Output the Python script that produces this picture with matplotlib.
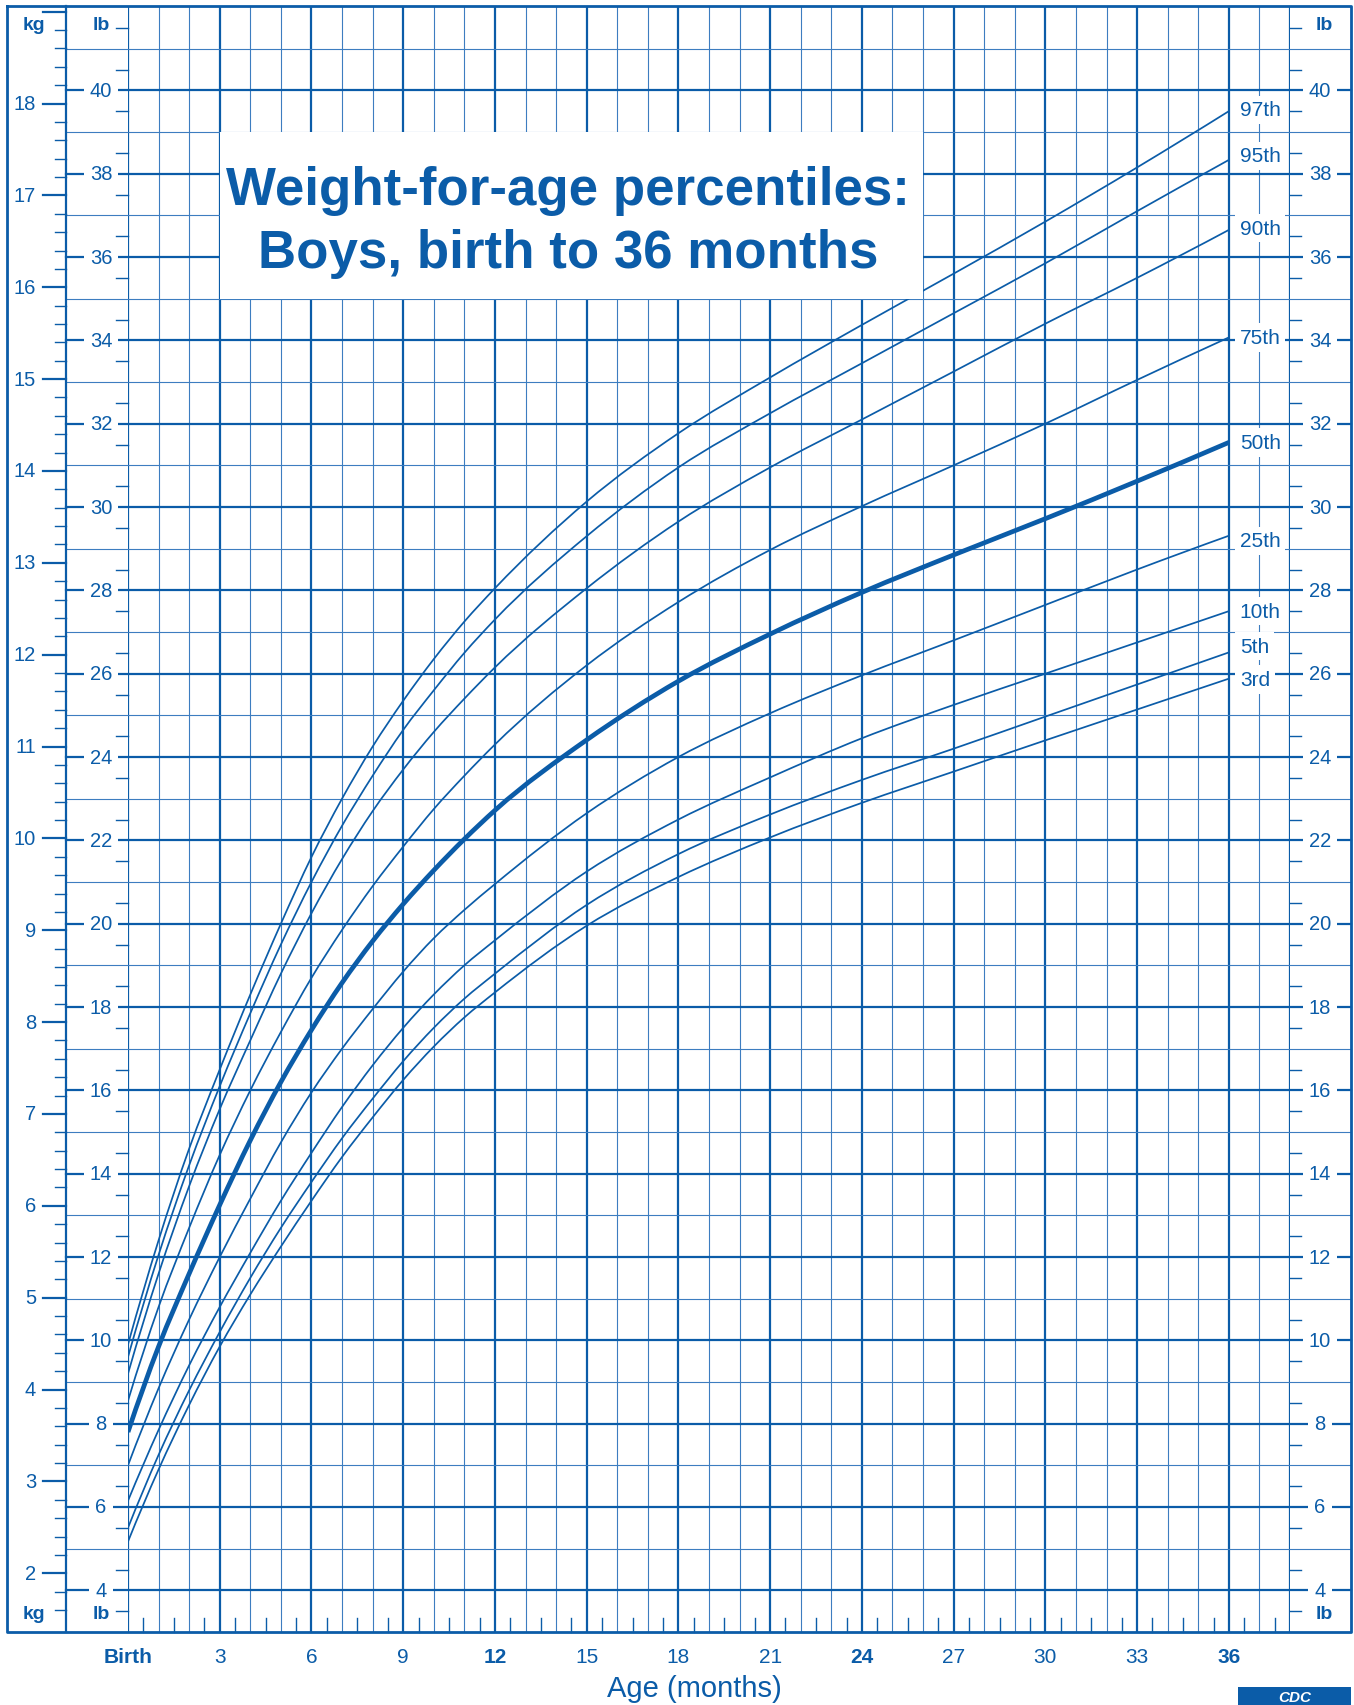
import matplotlib
matplotlib.use("Agg")
import matplotlib.pyplot as plt
from matplotlib.patches import Rectangle, PathPatch
from matplotlib.path import Path
import numpy as np

plt.rcParams['font.family'] = ['Liberation Sans', 'DejaVu Sans']

BLUE = '#0b5ca8'
GRID_THIN = '#3d7dc0'

# weight (lb) at each age (months)
ages = [0, 1, 2, 3, 4, 5, 6, 7, 8, 9, 10, 11, 12, 15, 18, 21, 24, 27, 30, 33, 36]
p97 = [9.9, 12.4, 14.6, 16.5, 18.3, 20.0, 21.6, 23.0, 24.25, 25.35, 26.35, 27.25, 28.05, 30.13, 31.77, 33.11, 34.37, 35.6, 36.85, 38.15, 39.5]
p95 = [9.6, 12.05, 14.2, 16.1, 17.85, 19.5, 21.0, 22.35, 23.55, 24.65, 25.6, 26.5, 27.3, 29.3, 30.95, 32.25, 33.45, 34.65, 35.85, 37.1, 38.33]
p90 = [9.2, 11.6, 13.7, 15.55, 17.2, 18.8, 20.25, 21.55, 22.7, 23.7, 24.6, 25.4, 26.15, 28.05, 29.65, 30.95, 32.1, 33.25, 34.4, 35.5, 36.65]
p75 = [8.55, 10.8, 12.7, 14.45, 16.0, 17.4, 18.7, 19.85, 20.9, 21.85, 22.75, 23.55, 24.3, 26.2, 27.72, 28.97, 30.02, 31.0, 32.0, 33.05, 34.07]
p50 = [7.8, 9.85, 11.6, 13.25, 14.8, 16.2, 17.45, 18.58, 19.58, 20.47, 21.28, 22.03, 22.72, 24.41, 25.82, 26.95, 27.95, 28.85, 29.72, 30.62, 31.55]
p25 = [7.0, 8.85, 10.5, 12.0, 13.4, 14.75, 15.95, 17.0, 17.95, 18.85, 19.65, 20.33, 20.95, 22.65, 24.0, 25.05, 25.96, 26.8, 27.65, 28.5, 29.31]
p10 = [6.15, 7.85, 9.4, 10.8, 12.1, 13.35, 14.5, 15.6, 16.6, 17.5, 18.3, 19.0, 19.6, 21.25, 22.5, 23.51, 24.45, 25.25, 26.0, 26.75, 27.5]
p5 = [5.5, 7.25, 8.8, 10.2, 11.5, 12.7, 13.8, 14.85, 15.8, 16.7, 17.5, 18.2, 18.8, 20.45, 21.67, 22.62, 23.45, 24.2, 24.97, 25.74, 26.51]
p3 = [5.17, 6.9, 8.45, 9.85, 11.1, 12.25, 13.35, 14.4, 15.35, 16.25, 17.05, 17.75, 18.35, 19.95, 21.12, 22.07, 22.9, 23.65, 24.4, 25.14, 25.88]

curves = [p3, p5, p10, p25, p50, p75, p90, p95, p97]
names = ['3rd', '5th', '10th', '25th', '50th', '75th', '90th', '95th', '97th']
label_shift = [-0.02, 0.15, 0.0, -0.12, 0.0, 0.0, 0.04, 0.1, 0.03]

month_ticks = [0, 3, 6, 9, 12, 15, 18, 21, 24, 27, 30, 33, 36]
month_labels = ['Birth', '3', '6', '9', '12', '15', '18', '21', '24', '27', '30', '33', '36']
bold_months = ['Birth', '12', '24', '36']
lb_labels = list(range(4, 41, 2))
kg_labels = list(range(2, 19))
KG2LB = 2.20462

W, H = 1354, 1706
L, R, T, B = 128, 1290, 8, 1633

fig = plt.figure(figsize=(W / 100, H / 100), dpi=100)
ax = fig.add_axes([L / W, 1 - B / H, (R - L) / W, (B - T) / H])
ax.set_xlim(0, 38)
ax.set_ylim(3, 42)
ax.axis('off')


def fx(px):  # pixel column -> axes fraction
    return (px - L) / (R - L)


def fy(py):  # pixel row -> axes fraction
    return (B - py) / (B - T)


def smooth_path(x, y):
    # cubic Hermite pieces through the read points, drawn as Bezier curves
    x = np.asarray(x, float)
    y = np.asarray(y, float)
    h = np.diff(x)
    s = np.diff(y) / h
    d = np.empty_like(y)
    d[1:-1] = (s[:-1] * h[1:] + s[1:] * h[:-1]) / (h[:-1] + h[1:])
    d[0] = ((2 * h[0] + h[1]) * s[0] - h[0] * s[1]) / (h[0] + h[1])
    d[-1] = ((2 * h[-1] + h[-2]) * s[-1] - h[-1] * s[-2]) / (h[-1] + h[-2])
    verts = [(x[0], y[0])]
    codes = [Path.MOVETO]
    for i in range(len(x) - 1):
        verts += [(x[i] + h[i] / 3, y[i] + d[i] * h[i] / 3),
                  (x[i + 1] - h[i] / 3, y[i + 1] - d[i + 1] * h[i] / 3),
                  (x[i + 1], y[i + 1])]
        codes += [Path.CURVE4] * 3
    return Path(verts, codes)


ytr = ax.get_yaxis_transform()
xtr = ax.get_xaxis_transform()

# vertical grid (one line per month)
for m in range(0, 39):
    if m % 3 == 0 or m == 38:
        ax.axvline(m, color=BLUE, lw=1.6, zorder=1)
    else:
        ax.axvline(m, color=GRID_THIN, lw=0.8, zorder=1)

# horizontal grid (one line per lb), runs out over the lb columns
for lb in range(4, 42):
    if lb % 2 == 0:
        ax.plot([fx(66), fx(1351)], [lb, lb], transform=ytr, clip_on=False,
                color=BLUE, lw=1.6, zorder=1)
    else:
        ax.plot([fx(66), fx(1351)], [lb, lb], transform=ytr, clip_on=False,
                color=GRID_THIN, lw=0.8, zorder=1)

# half-lb ticks on both sides
for lb in np.arange(3.5, 42, 1.0):
    ax.plot([fx(116), fx(128)], [lb, lb], transform=ytr, clip_on=False, color=BLUE, lw=1.0)
    ax.plot([fx(1290), fx(1301)], [lb, lb], transform=ytr, clip_on=False, color=BLUE, lw=1.0)

# half-month ticks at the bottom
for m in np.arange(0.5, 38, 1.0):
    ax.plot([m, m], [0, fy(1619)], transform=xtr, clip_on=False, color=BLUE, lw=1.0)

# lb labels on both sides
for lb in lb_labels:
    for xp in (101, 1320):
        ax.text(fx(xp), lb, str(lb), transform=ytr, ha='center', va='center',
                fontsize=14.5, color=BLUE, zorder=5,
                bbox=dict(boxstyle='square,pad=0.3', fc='white', ec='none'))

# kg scale
for k in np.arange(1.6, 19.01, 0.2):
    y = k * KG2LB
    major = abs(k - round(k)) < 1e-6
    x0 = fx(43) if major else fx(55)
    ax.plot([x0, fx(66)], [y, y], transform=ytr, clip_on=False, color=BLUE,
            lw=1.6 if major else 1.0)
for k in kg_labels:
    ax.text(fx(36), k * KG2LB, str(k), transform=ytr, ha='right', va='center',
            fontsize=14.5, color=BLUE)

# unit captions
for xp, txt in ((34, 'kg'), (101, 'lb'), (1324, 'lb')):
    ax.text(fx(xp), fy(25), txt, transform=ax.transAxes, ha='center', va='center',
            fontsize=14, fontweight='bold', color=BLUE)
    ax.text(fx(xp), fy(1615), txt, transform=ax.transAxes, ha='center', va='center',
            fontsize=14, fontweight='bold', color=BLUE)

# outer frame and kg column divider
fx0, fx1, fy0, fy1 = fx(7), fx(1351), fy(7), fy(1633)
ax.plot([fx0, fx1, fx1, fx0, fx0], [fy0, fy0, fy1, fy1, fy0], transform=ax.transAxes,
        clip_on=False, color=BLUE, lw=2.0, zorder=6)
ax.plot([fx(66), fx(66)], [fy0, fy1], transform=ax.transAxes, clip_on=False,
        color=BLUE, lw=1.6, zorder=6)

# percentile curves
for vals, name, dy in zip(curves, names, label_shift):
    ax.add_patch(PathPatch(smooth_path(ages, vals), fill=False, edgecolor=BLUE,
                           lw=3.4 if name == '50th' else 1.25, capstyle='butt', zorder=3))
    ax.text(36.36, vals[-1] + dy, name, ha='left', va='center', fontsize=15,
            color=BLUE, zorder=5,
            bbox=dict(boxstyle='square,pad=0.22', fc='white', ec='none'))

# title box
ax.add_patch(Rectangle((3, 35), 23, 4, facecolor='white', edgecolor='none', zorder=4))
ax.text(14.4, 37.6, 'Weight-for-age percentiles:', ha='center', va='center',
        fontsize=38.1, fontweight='bold', color=BLUE, zorder=5)
ax.text(14.4, 36.09, 'Boys, birth to 36 months', ha='center', va='center',
        fontsize=38.1, fontweight='bold', color=BLUE, zorder=5)

# age axis labels
for m, lab in zip(month_ticks, month_labels):
    ax.text(m, fy(1658), lab, transform=xtr, ha='center', va='center', fontsize=15,
            fontweight='bold' if lab in bold_months else 'normal', color=BLUE)
ax.text(fx(694), fy(1689), 'Age (months)', transform=ax.transAxes, ha='center',
        va='center', fontsize=21, color=BLUE)

# CDC logo, bottom right
logo = fig.add_axes([1238 / W, 0, 113 / W, 18 / H])
logo.set_xlim(0, 1)
logo.set_ylim(0, 1)
logo.axis('off')
logo.add_patch(Rectangle((0, 0), 1, 1, facecolor=BLUE, edgecolor='none'))
logo.text(0.5, 0.45, 'CDC', ha='center', va='center', fontsize=11, fontweight='bold',
          fontstyle='italic', color='white')

fig.savefig('out.png', dpi=100, facecolor='white')
